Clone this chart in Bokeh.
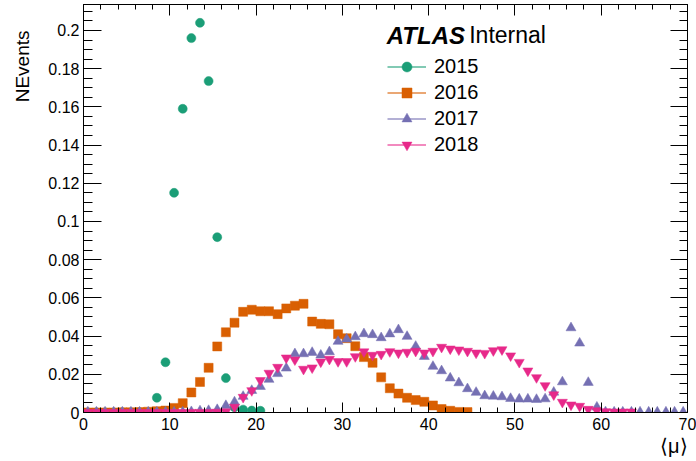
import numpy as np
from bokeh.plotting import figure
from bokeh.models import (ColumnDataSource, Range1d, SingleIntervalTicker, LinearAxis,
                          Legend, LegendItem, Label, Title, CustomJSTickFormatter,
                          CustomLabelingPolicy)
from bokeh.embed import file_html
from bokeh.resources import INLINE

# bin centres of <mu>
mu_centres = np.arange(0.5, 70.0, 1.0)

# NEvents per year (normalised), starting at the first bin
y2015 = [0, 0, 0, 0, 0, 0, 0, 0, 0.0077, 0.0263, 0.115, 0.159, 0.196, 0.204, 0.1735,
         0.0918, 0.018, 0.0027, 0.0015, 0.001, 0.0009]
y2016 = [0, 0, 0, 0, 0.0001, 0.0001, 0.0002, 0.0004, 0.0007, 0.001, 0.0024, 0.0049,
         0.0105, 0.016, 0.0234, 0.0346, 0.042, 0.047, 0.0527, 0.0538, 0.053, 0.053,
         0.0515, 0.0545, 0.0559, 0.0569, 0.0476, 0.0464, 0.0462, 0.041, 0.0389, 0.0347,
         0.029, 0.026, 0.0184, 0.0127, 0.0099, 0.0077, 0.0065, 0.0056, 0.0037, 0.0018,
         0.0009, 0.0003, 0.0002]
y2017 = [0.0002, 0.0002, 0.0002, 0.0002, 0.0002, 0.0002, 0.0002, 0.0002, 0.0002, 0.0002,
         0.0002, 0.0002, 0.0004, 0.0008, 0.001, 0.0015, 0.0036, 0.0055, 0.0084, 0.0115,
         0.0136, 0.0173, 0.0203, 0.0232, 0.0307, 0.0307, 0.0314, 0.030, 0.0318, 0.0372,
         0.0384, 0.0396, 0.0412, 0.0407, 0.0391, 0.0411, 0.0433, 0.0398, 0.0346, 0.0293,
         0.0241, 0.0218, 0.018, 0.0155, 0.0124, 0.0105, 0.0087, 0.0085, 0.0082, 0.0073,
         0.007, 0.007, 0.0068, 0.0071, 0.0106, 0.016, 0.0443, 0.0363, 0.0157, 0.0028,
         0.0003, 0.0002, 0.0002, 0.0002, 0.0002, 0.0002, 0.0002, 0.0002, 0.0002, 0.0002]
y2018 = [0.0001, 0.0001, 0.0001, 0.0001, 0.0001, 0.0001, 0.0001, 0.0001, 0.0001, 0.0001,
         0.0001, 0.0001, 0.0001, 0.0001, 0.0001, 0.0002, 0.0004, 0.0028, 0.008, 0.0115,
         0.0168, 0.0206, 0.0237, 0.0286, 0.0276, 0.0227, 0.0234, 0.0265, 0.0279, 0.0267,
         0.0267, 0.0293, 0.0318, 0.030, 0.0305, 0.0319, 0.0312, 0.0316, 0.0321, 0.0312,
         0.0321, 0.0342, 0.0333, 0.0328, 0.0321, 0.0312, 0.031, 0.0324, 0.0329, 0.0297,
         0.0263, 0.0218, 0.0183, 0.0141, 0.0093, 0.0054, 0.004, 0.0033, 0.0017, 0.001,
         0.0005, 0.0003, 0.0003, 0.0003]

years = ["2015", "2016", "2017", "2018"]
series = [y2015, y2016, y2017, y2018]
colors = ["#1b9e77", "#d95f02", "#7570b3", "#e7298a"]
markers = ["circle", "square", "triangle", "inverted_triangle"]
sizes = [9, 9, 10, 10]

FONT = "Liberation Sans"

p = figure(width=696, height=461, x_range=Range1d(0, 70), y_range=Range1d(0, 0.2136),
           output_backend="svg", toolbar_location=None,
           min_border_left=82, min_border_right=9, min_border_top=4, min_border_bottom=49)
p.xgrid.visible = False
p.ygrid.visible = False
p.outline_line_color = "black"
p.background_fill_color = "white"
p.border_fill_color = "white"

xticker = SingleIntervalTicker(interval=10, num_minor_ticks=5)
yticker = SingleIntervalTicker(interval=0.02, num_minor_ticks=4)
fmt = CustomJSTickFormatter(code="return (Math.round(tick*100)/100).toString();")
no_labels = CustomLabelingPolicy(code="return new Set();")

def style_axis(ax, tin, mtin, labels=True):
    ax.major_tick_in = tin
    ax.major_tick_out = 0
    ax.minor_tick_in = mtin
    ax.minor_tick_out = 0
    ax.axis_line_color = "black"
    ax.major_tick_line_color = "black"
    ax.minor_tick_line_color = "black"
    if labels:
        ax.major_label_text_font = FONT
        ax.major_label_text_font_size = "16px"
        ax.major_label_text_color = "black"
    else:
        ax.major_label_policy = no_labels
        ax.major_label_text_font_size = "0px"
        ax.major_label_standoff = 0

p.xaxis.ticker = xticker
p.yaxis.ticker = yticker
p.yaxis.formatter = fmt
style_axis(p.xaxis[0], 10, 5)
style_axis(p.yaxis[0], 18, 9)
p.xaxis.major_label_standoff = 5
p.yaxis.major_label_standoff = 4

top_ax = LinearAxis(ticker=xticker)
style_axis(top_ax, 11, 5, labels=False)
p.add_layout(top_ax, "above")
right_ax = LinearAxis(ticker=yticker)
style_axis(right_ax, 17, 8, labels=False)
p.add_layout(right_ax, "right")

items = []
for yr, vals, col, mk, sz in zip(years, series, colors, markers, sizes):
    src = ColumnDataSource(dict(x=mu_centres[:len(vals)], y=vals))
    r = p.scatter("x", "y", source=src, marker=mk, size=sz, fill_color=col,
                  line_color=col, line_alpha=0.5)
    ln = p.line(x=[np.nan], y=[np.nan], line_color=col, line_alpha=0.55, line_width=2)
    items.append(LegendItem(label=yr, renderers=[ln, r]))

legend = Legend(items=items, location=(304, 255.5), orientation="vertical",
                glyph_width=39, glyph_height=25, spacing=1, padding=0, margin=0,
                label_standoff=8, label_text_font=FONT, label_text_font_size="20px",
                label_text_color="black", border_line_color=None,
                background_fill_alpha=0)
p.add_layout(legend, "center")

p.add_layout(Label(x=35.15, y=0.1974, text="ATLAS", text_font=FONT, text_font_size="24px",
                   text_font_style="bold italic", text_color="black",
                   text_baseline="alphabetic"))
p.add_layout(Label(x=44.7, y=0.1974, text="Internal", text_font=FONT, text_font_size="23px",
                   text_font_style="normal", text_color="black",
                   text_baseline="alphabetic"))

# axis titles (ROOT style: at the end of each axis)
p.add_layout(Title(text="NEvents", align="right", vertical_align="top",
                   text_font=FONT, text_font_size="19px",
                   text_font_style="normal", text_color="black", offset=26,
                   standoff=22), "left")
p.add_layout(Title(text="⟨μ⟩", align="right", text_font=FONT, text_font_size="20px",
                   text_font_style="normal", text_color="black", standoff=0), "below")

open("out.html", "w").write(file_html(p, INLINE))
